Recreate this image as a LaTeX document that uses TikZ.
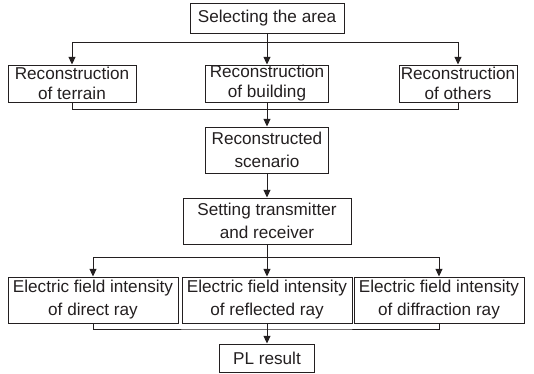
\documentclass[tikz,border=0pt]{standalone}
\usepackage{fontspec}
\setmainfont{Liberation Sans}
\usepackage{tikz}
\usetikzlibrary{arrows.meta, positioning, calc}
\usepackage{xcolor}
\definecolor{ink}{HTML}{231F20}
\tikzset{
  block/.style={rectangle, draw=ink, line width=0.7pt, text=ink,
                align=center, inner sep=0pt, minimum height=1.15cm,
                font=\fontsize{12.2}{16.3}\selectfont},
  blockT/.style={block, minimum height=0.925cm,
                 font=\fontsize{12.2}{14.2}\selectfont},
  arrow/.style={-{Triangle[length=5.5pt, width=5pt]}, line width=0.7pt, draw=ink},
  link/.style={line width=0.7pt, draw=ink},
}

\begin{document}
\begin{tikzpicture}
  \useasboundingbox (0,0) rectangle (13.35,-9.35);

  %% Area and reconstruction
  \node[block, minimum width=3.85cm, minimum height=0.75cm] (select) at (6.675,-0.45)
    {Selecting the area};
  \node[blockT, minimum width=3.2cm]   (terrain)  at (1.8,-2.0875)
    {Reconstruction\\of terrain};
  \node[blockT, minimum width=3.075cm] (building) at (6.675,-2.0875)
    {Reconstruction\\of building};
  \node[blockT, minimum width=2.95cm]  (others)   at (11.45,-2.0875)
    {Reconstruction\\of others};
  \coordinate (split1) at (6.675,-1.05);
  \coordinate (join1)  at (6.675,-2.74);

  %% Scenario and transceiver
  \node[block, minimum width=3.075cm] (scenario) at (6.675,-3.75)
    {Reconstructed\\scenario};
  \node[block, minimum width=4.2cm]   (setting)  at (6.675,-5.525)
    {Setting transmitter\\and receiver};
  \coordinate (split2) at (6.675,-6.425);
  \coordinate (join2)  at (6.675,-8.225);

  %% Field intensity
  \node[block, minimum width=4.25cm] (direct)      at (2.325,-7.5)
    {Electric field intensity\\of direct ray};
  \node[block, minimum width=4.25cm] (reflected)   at (6.675,-7.5)
    {Electric field intensity\\of reflected ray};
  \node[block, minimum width=4.25cm] (diffraction) at (10.975,-7.5)
    {Electric field intensity\\of diffraction ray};
  \node[block, minimum width=2.375cm, minimum height=0.7cm] (pl) at (6.675,-8.95)
    {PL result};

  %% Connectors
  \draw[arrow] (select) -- (building);
  \draw[arrow] (split1) -| (terrain);
  \draw[arrow] (split1) -| (others);
  \draw[link] (terrain.south) |- (join1) -| (others.south);
  \draw[arrow] (building) -- (scenario);
  \draw[arrow] (scenario) -- (setting);
  \draw[arrow] (setting) -- (reflected);
  \draw[arrow] (split2) -| (direct);
  \draw[arrow] (split2) -| (diffraction);
  \draw[link] (direct.south) |- (join2) -| (diffraction.south);
  \draw[arrow] (reflected) -- (pl);
\end{tikzpicture}
\end{document}
